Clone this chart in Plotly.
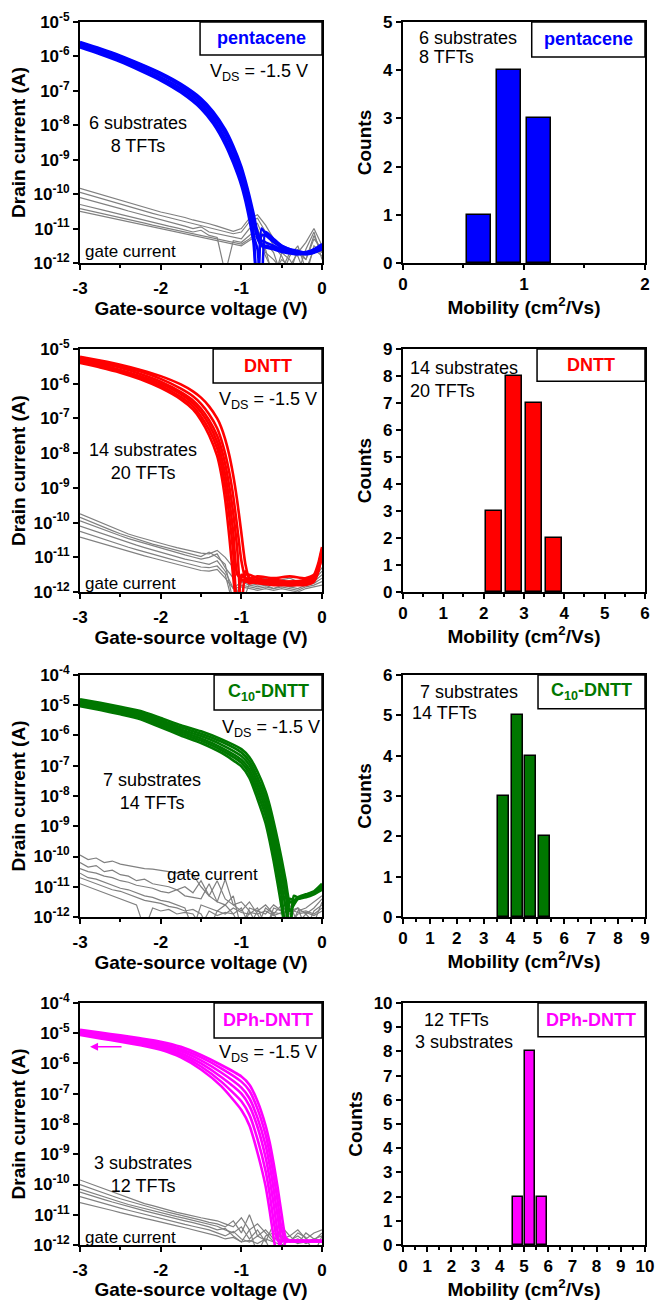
import plotly.graph_objects as go

# ---------------- data ----------------
# Pentacene transfer curves (log10 of |I_D| in A)
PENT_VG = [-3.0, -2.75, -2.5, -2.25, -2.0, -1.75, -1.5, -1.35, -1.2, -1.1, -1.0, -0.95, -0.9, -0.85,
           -0.8, -0.75, -0.7, -0.6, -0.5, -0.4, -0.3, -0.2, -0.1, 0.0]
PENT_LOG_ID = [
    [-5.58, -5.77, -5.98, -6.22, -6.48, -6.8, -7.22, -7.6, -8.12, -8.6, -9.2, -9.6, -10.05, -10.55, -11.1, -11.35, -11.4, -11.5, -11.6, -11.65, -11.7, -11.68, -11.62, -11.5],
    [-5.62, -5.81, -6.02, -6.26, -6.53, -6.86, -7.3, -7.7, -8.25, -8.75, -9.38, -9.8, -10.25, -10.75, -11.3, -11.5, -11.55, -11.6, -11.68, -11.72, -11.75, -11.72, -11.68, -11.55],
    [-5.66, -5.85, -6.07, -6.32, -6.6, -6.93, -7.38, -7.8, -8.38, -8.9, -9.52, -9.95, -10.45, -11.1, -13.0, -11.2, -11.2, -11.4, -11.55, -11.65, -11.7, -11.7, -11.65, -11.55],
    [-5.7, -5.9, -6.12, -6.38, -6.66, -7.0, -7.46, -7.88, -8.48, -9.0, -9.62, -10.08, -10.58, -11.2, -11.6, -13.0, -11.1, -11.3, -11.5, -11.6, -11.65, -11.7, -11.6, -11.45],
    [-5.6, -5.79, -6.0, -6.24, -6.5, -6.83, -7.26, -7.65, -8.18, -8.68, -9.3, -9.7, -10.15, -10.65, -11.2, -11.45, -11.5, -11.55, -11.62, -11.66, -11.7, -11.7, -11.66, -11.6],
    [-5.74, -5.94, -6.16, -6.42, -6.7, -7.05, -7.52, -7.95, -8.56, -9.1, -9.75, -10.2, -10.75, -11.4, -13.0, -11.0, -11.15, -11.35, -11.5, -11.6, -11.7, -11.75, -11.7, -11.6],
]

DNTT_VG = [-3.0, -2.75, -2.5, -2.25, -2.0, -1.75, -1.6, -1.5, -1.4, -1.3, -1.25, -1.2, -1.15, -1.1,
           -1.05, -1.0, -0.95, -0.9, -0.8, -0.6, -0.4, -0.2, -0.1, -0.05, 0.0]
DNTT_LOG_ID = [
    [-5.22, -5.33, -5.45, -5.6, -5.78, -6.02, -6.22, -6.4, -6.65, -7.0, -7.25, -7.6, -8.05, -8.65, -9.4, -10.3, -11.2, -11.6, -11.55, -11.6, -11.55, -11.6, -11.5, -11.2, -10.7],
    [-5.26, -5.37, -5.5, -5.65, -5.86, -6.14, -6.36, -6.58, -6.88, -7.28, -7.6, -8.02, -8.55, -9.25, -10.15, -11.1, -11.6, -11.75, -11.7, -11.65, -11.7, -11.65, -11.55, -11.3, -10.8],
    [-5.3, -5.41, -5.54, -5.72, -5.94, -6.24, -6.48, -6.72, -7.05, -7.5, -7.85, -8.32, -8.95, -9.75, -10.8, -12.5, -11.5, -11.5, -11.6, -11.7, -11.75, -11.7, -11.6, -11.35, -10.9],
    [-5.33, -5.45, -5.6, -5.78, -6.0, -6.3, -6.56, -6.82, -7.18, -7.68, -8.08, -8.62, -9.35, -10.3, -11.5, -11.6, -11.4, -11.6, -11.65, -11.75, -11.8, -11.75, -11.65, -11.4, -11.0],
    [-5.37, -5.49, -5.64, -5.82, -6.06, -6.38, -6.65, -6.94, -7.32, -7.86, -8.32, -8.95, -9.8, -10.9, -12.5, -11.65, -11.7, -11.7, -11.75, -11.8, -11.8, -11.8, -11.7, -11.45, -10.9],
    [-5.4, -5.53, -5.68, -5.87, -6.12, -6.45, -6.74, -7.05, -7.48, -8.08, -8.6, -9.35, -10.4, -11.6, -12.5, -11.5, -11.6, -11.65, -11.7, -11.75, -11.7, -11.75, -11.65, -11.3, -10.75],
]

C10_VG = [-3.0, -2.75, -2.5, -2.25, -2.0, -1.75, -1.5, -1.25, -1.0, -0.9, -0.8, -0.7, -0.65, -0.6,
          -0.55, -0.5, -0.45, -0.4, -0.35, -0.3, -0.2, -0.1, 0.0]
C10_LOG_ID = [
    [-4.8, -4.92, -5.05, -5.19, -5.42, -5.66, -5.86, -6.12, -6.45, -6.72, -7.2, -7.85, -8.3, -8.85, -9.45, -10.1, -10.8, -11.5, -11.5, -11.35, -11.25, -11.15, -10.9],
    [-4.85, -4.97, -5.1, -5.25, -5.49, -5.73, -5.94, -6.2, -6.56, -6.85, -7.38, -8.05, -8.52, -9.1, -9.7, -10.35, -11.05, -12.5, -11.45, -11.4, -11.3, -11.2, -10.95],
    [-4.9, -5.02, -5.15, -5.3, -5.55, -5.8, -6.02, -6.3, -6.68, -6.98, -7.55, -8.25, -8.75, -9.35, -9.95, -10.6, -11.3, -11.8, -11.6, -11.4, -11.3, -11.2, -11.0],
    [-4.94, -5.07, -5.2, -5.36, -5.61, -5.87, -6.1, -6.4, -6.8, -7.12, -7.72, -8.45, -8.98, -9.6, -10.25, -10.95, -11.7, -12.5, -11.3, -11.35, -11.3, -11.2, -11.05],
    [-4.98, -5.11, -5.25, -5.41, -5.67, -5.93, -6.17, -6.48, -6.9, -7.25, -7.9, -8.65, -9.2, -9.85, -10.55, -11.3, -12.5, -11.4, -11.45, -11.4, -11.35, -11.25, -11.1],
    [-5.03, -5.16, -5.3, -5.46, -5.73, -6.0, -6.25, -6.57, -7.02, -7.4, -8.1, -8.9, -9.48, -10.15, -10.9, -11.7, -12.5, -11.5, -11.5, -11.4, -11.3, -11.2, -11.0],
]

DPH_VG = [-3.0, -2.75, -2.5, -2.25, -2.0, -1.75, -1.5, -1.25, -1.0, -0.9, -0.8, -0.7, -0.65, -0.6,
          -0.55, -0.5, -0.45, -0.4, -0.3, -0.2, -0.1, 0.0]
DPH_LOG_ID = [
    [-4.89, -4.98, -5.07, -5.17, -5.28, -5.45, -5.72, -6.05, -6.43, -6.7, -7.25, -8.05, -8.6, -9.3, -10.1, -11.0, -11.75, -11.85, -11.87, -11.87, -11.87, -11.87],
    [-4.93, -5.02, -5.11, -5.22, -5.34, -5.52, -5.8, -6.16, -6.6, -6.9, -7.5, -8.35, -8.95, -9.7, -10.55, -11.5, -11.85, -11.87, -11.87, -11.87, -11.87, -11.87],
    [-4.96, -5.05, -5.15, -5.26, -5.4, -5.59, -5.9, -6.3, -6.8, -7.15, -7.8, -8.7, -9.35, -10.15, -11.05, -11.8, -11.87, -11.87, -11.86, -11.87, -11.87, -11.87],
    [-4.99, -5.09, -5.19, -5.3, -5.45, -5.66, -6.0, -6.45, -7.0, -7.4, -8.1, -9.1, -9.8, -10.65, -11.6, -12.5, -11.87, -11.87, -11.87, -11.86, -11.87, -11.87],
    [-5.03, -5.13, -5.23, -5.35, -5.5, -5.73, -6.1, -6.6, -7.25, -7.7, -8.5, -9.55, -10.3, -11.2, -11.85, -11.87, -11.87, -11.86, -11.87, -11.87, -11.87, -11.87],
    [-5.06, -5.17, -5.28, -5.4, -5.55, -5.8, -6.2, -6.75, -7.54, -8.05, -8.95, -10.05, -10.85, -11.75, -12.5, -11.87, -11.87, -11.87, -11.87, -11.87, -11.86, -11.87],
]

# Gate-current curves (log10 of |I_G| in A), common voltage grid
GATE_VG = [-3.0, -2.9, -2.8, -2.7, -2.6, -2.5, -2.4, -2.3, -2.2, -2.1, -2.0, -1.9, -1.8, -1.7, -1.6,
           -1.5, -1.4, -1.3, -1.2, -1.1, -1.0, -0.9, -0.8, -0.7, -0.6, -0.5, -0.4, -0.3, -0.2, -0.1, 0.0]
PENT_LOG_IG = [
    [-9.83, -9.9, -9.97, -10.04, -10.1, -10.17, -10.24, -10.3, -10.37, -10.45, -10.52, -10.57, -10.62, -10.68, -10.75, -10.8, -10.86, -10.93, -11.0, -11.08, -11.0, -10.7, -10.6, -10.9, -11.3, -11.5, -11.6, -11.7, -11.4, -11.0, -11.5],
    [-9.95, -10.02, -10.08, -10.15, -10.22, -10.29, -10.36, -10.43, -10.5, -10.56, -10.62, -10.68, -10.74, -10.8, -10.86, -10.92, -10.98, -11.05, -11.1, -11.15, -11.1, -10.8, -10.7, -11.1, -11.5, -11.8, -12.3, -11.6, -11.9, -11.2, -11.7],
    [-10.1, -10.16, -10.22, -10.29, -10.36, -10.42, -10.49, -10.55, -10.62, -10.68, -10.74, -10.8, -10.87, -10.93, -11.0, -10.95, -11.1, -11.15, -11.2, -11.25, -11.3, -11.0, -10.85, -11.4, -11.7, -12.4, -11.8, -11.5, -12.2, -11.6, -11.8],
    [-10.3, -10.35, -10.41, -10.47, -10.53, -10.59, -10.65, -10.7, -10.76, -10.82, -10.87, -10.93, -10.98, -11.04, -11.1, -11.05, -11.2, -11.26, -12.3, -11.35, -11.4, -11.2, -11.0, -11.6, -12.5, -11.7, -11.9, -12.3, -11.6, -11.1, -11.9],
    [-10.42, -10.47, -10.53, -10.58, -10.63, -10.68, -10.73, -10.78, -10.84, -10.9, -10.95, -11.0, -11.05, -11.1, -11.15, -11.2, -11.24, -11.3, -11.35, -11.4, -11.45, -11.3, -11.1, -11.7, -11.9, -12.2, -11.7, -11.8, -12.4, -11.5, -11.7],
    [-10.5, -10.55, -10.6, -10.65, -10.7, -10.76, -10.82, -10.87, -10.92, -10.97, -11.02, -11.07, -11.12, -11.17, -11.22, -11.27, -11.32, -11.37, -11.42, -11.47, -11.5, -11.35, -11.2, -11.8, -12.3, -11.9, -12.1, -11.7, -11.9, -11.3, -11.6],
]
DNTT_LOG_IG = [
    [-9.75, -9.85, -9.95, -10.05, -10.15, -10.25, -10.33, -10.4, -10.47, -10.54, -10.6, -10.66, -10.72, -10.78, -10.83, -10.88, -10.9, -10.8, -11.0, -11.3, -11.55, -11.6, -11.65, -11.6, -11.7, -11.65, -11.6, -11.7, -11.65, -11.6, -11.3],
    [-9.85, -9.95, -10.05, -10.14, -10.23, -10.32, -10.4, -10.48, -10.55, -10.62, -10.68, -10.74, -10.8, -10.86, -10.92, -10.98, -10.85, -11.0, -11.2, -12.3, -11.7, -11.65, -11.75, -11.7, -11.65, -11.8, -11.7, -11.75, -11.7, -11.65, -11.4],
    [-9.95, -10.04, -10.13, -10.22, -10.3, -10.38, -10.46, -10.53, -10.6, -10.67, -10.74, -10.8, -10.87, -10.93, -10.99, -11.05, -11.0, -10.9, -11.3, -11.6, -12.4, -11.75, -11.8, -11.75, -11.8, -11.7, -11.85, -11.8, -11.75, -11.7, -11.5],
    [-10.1, -10.18, -10.27, -10.35, -10.43, -10.5, -10.58, -10.65, -10.72, -10.79, -10.85, -10.92, -10.98, -11.05, -11.1, -11.15, -11.2, -11.1, -11.4, -11.9, -11.7, -11.8, -11.85, -11.8, -11.9, -11.8, -11.85, -11.9, -11.8, -11.75, -11.6],
    [-10.25, -10.33, -10.41, -10.49, -10.57, -10.64, -10.71, -10.78, -10.85, -10.92, -10.98, -11.04, -11.1, -11.16, -11.22, -11.28, -11.3, -11.25, -11.5, -12.4, -11.8, -11.85, -11.9, -11.85, -11.9, -11.85, -11.9, -11.95, -11.85, -11.8, -11.7],
    [-10.42, -10.49, -10.56, -10.63, -10.7, -10.77, -10.84, -10.9, -10.96, -11.02, -11.08, -11.14, -11.2, -11.26, -11.32, -11.38, -11.4, -11.35, -11.6, -11.9, -11.85, -11.9, -11.95, -11.9, -11.95, -11.9, -11.95, -12.0, -11.9, -11.85, -11.8],
]
C10_LOG_IG = [
    [-9.95, -10.1, -10.05, -10.2, -10.15, -10.25, -10.3, -10.35, -10.4, -10.42, -10.45, -10.5, -10.55, -10.52, -10.6, -11.0, -11.3, -10.8, -11.4, -11.6, -11.5, -11.8, -12.3, -11.7, -11.9, -11.6, -12.4, -11.8, -11.7, -11.5, -11.3],
    [-10.2, -10.35, -10.3, -10.5, -10.45, -10.6, -10.65, -10.8, -10.75, -10.9, -10.95, -11.0, -11.1, -11.0, -11.2, -10.8, -11.3, -11.5, -10.75, -11.6, -11.8, -11.5, -11.9, -12.4, -11.7, -11.8, -11.6, -12.2, -11.9, -11.7, -11.4],
    [-10.4, -10.5, -10.55, -10.65, -10.7, -10.8, -10.85, -10.95, -11.0, -11.05, -11.15, -11.2, -11.1, -11.3, -11.35, -11.4, -10.9, -11.5, -11.6, -11.3, -12.4, -11.7, -11.8, -11.6, -11.9, -12.3, -11.8, -11.7, -11.9, -12.2, -11.5],
    [-10.55, -10.7, -10.75, -10.85, -10.95, -11.05, -11.1, -11.2, -11.3, -11.35, -11.45, -11.5, -11.6, -11.7, -12.4, -11.6, -11.7, -11.8, -11.6, -11.9, -11.7, -12.3, -11.8, -11.9, -11.6, -11.8, -11.9, -11.7, -12.4, -11.8, -11.6],
    [-10.7, -10.8, -10.9, -11.0, -11.1, -11.15, -11.25, -11.35, -11.45, -11.5, -11.55, -11.65, -11.7, -11.8, -11.75, -11.9, -12.4, -11.8, -11.9, -11.7, -11.85, -11.9, -11.7, -12.3, -11.85, -11.9, -11.75, -11.85, -11.8, -11.9, -11.7],
    [-10.9, -11.0, -11.1, -11.2, -11.3, -11.4, -11.5, -11.6, -12.4, -11.7, -11.8, -11.75, -11.9, -11.85, -11.9, -12.3, -11.8, -11.95, -11.85, -11.9, -12.4, -11.85, -11.9, -11.8, -11.95, -11.85, -12.3, -11.9, -11.85, -11.95, -11.8],
]
DPH_LOG_IG = [
    [-9.85, -9.95, -10.05, -10.15, -10.25, -10.35, -10.45, -10.55, -10.63, -10.7, -10.78, -10.85, -10.92, -10.98, -11.05, -11.1, -11.15, -11.2, -11.3, -11.4, -11.1, -11.5, -11.3, -11.6, -11.9, -11.4, -11.7, -11.5, -11.8, -11.6, -11.5],
    [-10.0, -10.1, -10.2, -10.3, -10.38, -10.47, -10.55, -10.63, -10.7, -10.78, -10.85, -10.92, -10.98, -11.05, -11.12, -11.18, -11.25, -11.3, -11.4, -11.2, -11.6, -11.0, -11.7, -11.5, -11.8, -11.7, -11.9, -11.6, -11.75, -12.3, -11.7],
    [-10.15, -10.24, -10.33, -10.42, -10.5, -10.58, -10.66, -10.73, -10.8, -10.87, -10.94, -11.0, -11.06, -11.12, -11.18, -11.24, -11.3, -11.38, -11.5, -11.6, -11.4, -11.8, -11.5, -11.9, -11.3, -11.8, -11.7, -11.95, -11.6, -11.8, -11.9],
    [-10.25, -10.34, -10.42, -10.5, -10.58, -10.66, -10.73, -10.8, -10.87, -10.94, -11.0, -11.07, -11.13, -11.2, -11.26, -11.32, -11.4, -11.5, -11.45, -11.7, -11.9, -11.5, -12.3, -11.7, -11.6, -11.9, -11.85, -11.7, -11.9, -11.8, -11.7],
    [-10.4, -10.48, -10.55, -10.63, -10.7, -10.78, -10.85, -10.92, -10.98, -11.05, -11.12, -11.18, -11.25, -11.32, -11.38, -11.45, -11.5, -11.6, -11.7, -11.55, -11.8, -11.9, -11.7, -11.85, -12.4, -11.75, -11.9, -11.8, -11.95, -11.85, -11.6],
    [-10.6, -10.66, -10.72, -10.8, -10.86, -10.93, -11.0, -11.06, -11.12, -11.18, -11.25, -11.31, -11.37, -11.43, -11.5, -11.56, -11.62, -11.7, -11.8, -11.75, -11.9, -11.85, -11.95, -11.8, -11.9, -12.0, -11.85, -11.95, -11.9, -11.8, -11.85],
]

# Mobility histograms (bin centres in cm^2/Vs, counts)
PENT_MU = [0.625, 0.875, 1.125]
PENT_COUNTS = [1, 4, 3]
DNTT_MU = [2.25, 2.75, 3.25, 3.75]
DNTT_COUNTS = [3, 8, 7, 2]
C10_MU = [3.75, 4.25, 4.75, 5.25]
C10_COUNTS = [3, 5, 4, 2]
DPH_MU = [4.75, 5.25, 5.75]
DPH_COUNTS = [2, 8, 2]

# Tick labels
VG_TICKS = [-3, -2, -1, 0]
VG_LABELS = ["-3", "-2", "-1", "0"]
LOG_TICKS_5 = [1e-12, 1e-11, 1e-10, 1e-9, 1e-8, 1e-7, 1e-6, 1e-5]
LOG_LABELS_5 = ["10<sup>-12</sup>", "10<sup>-11</sup>", "10<sup>-10</sup>", "10<sup>-9</sup>",
                "10<sup>-8</sup>", "10<sup>-7</sup>", "10<sup>-6</sup>", "10<sup>-5</sup>"]
LOG_TICKS_4 = LOG_TICKS_5 + [1e-4]
LOG_LABELS_4 = LOG_LABELS_5 + ["10<sup>-4</sup>"]
MU_TICKS = [[0, 1, 2], [0, 1, 2, 3, 4, 5, 6], [0, 1, 2, 3, 4, 5, 6, 7, 8, 9],
            [0, 1, 2, 3, 4, 5, 6, 7, 8, 9, 10]]
COUNT_TICKS = [[0, 1, 2, 3, 4, 5], [0, 1, 2, 3, 4, 5, 6, 7, 8, 9], [0, 1, 2, 3, 4, 5, 6],
               [0, 1, 2, 3, 4, 5, 6, 7, 8, 9, 10]]

MATERIALS = ["<b>pentacene</b>", "<b>DNTT</b>", "<b>C<sub>10</sub>-DNTT</b>", "<b>DPh-DNTT</b>"]
COLORS = ["#0000FF", "#FF0000", "#007700", "#FF00FF"]
SUBSTRATE_TEXT = [["6 substrates", "8 TFTs"], ["14 substrates", "20 TFTs"],
                  ["7 substrates", "14 TFTs"], ["3 substrates", "12 TFTs"]]

# ---------------- figure ----------------
fig = go.Figure()
FONT = "Arial"
GREY = "#808080"

transfer = [
    (PENT_VG, PENT_LOG_ID, PENT_LOG_IG),
    (DNTT_VG, DNTT_LOG_ID, DNTT_LOG_IG),
    (C10_VG, C10_LOG_ID, C10_LOG_IG),
    (DPH_VG, DPH_LOG_ID, DPH_LOG_IG),
]
hists = [(PENT_MU, PENT_COUNTS), (DNTT_MU, DNTT_COUNTS), (C10_MU, C10_COUNTS), (DPH_MU, DPH_COUNTS)]

ROW_DOMAINS = [[0.7977, 0.9831], [0.5446, 0.7315], [0.2946, 0.4808], [0.0423, 0.2285]]
LEFT_DOM = [0.1220, 0.4909]
RIGHT_DOM = [0.6143, 0.9832]

for i, (vg, ids, igs) in enumerate(transfer):
    xa = "x" if i == 0 else f"x{2*i+1}"
    ya = "y" if i == 0 else f"y{2*i+1}"
    for g in igs:
        fig.add_trace(go.Scatter(x=GATE_VG, y=[10 ** v for v in g], mode="lines",
                                 line=dict(color=GREY, width=1.2), xaxis=xa, yaxis=ya,
                                 showlegend=False, hoverinfo="skip"))
    for d in ids:
        fig.add_trace(go.Scatter(x=vg, y=[10 ** v for v in d], mode="lines",
                                 line=dict(color=COLORS[i], width=2.6, shape="spline", smoothing=0.6),
                                 xaxis=xa, yaxis=ya, showlegend=False, hoverinfo="skip"))
    mu, cnt = hists[i]
    fig.add_trace(go.Bar(x=mu, y=cnt, width=0.4 if i else 0.2,
                         marker=dict(color=COLORS[i], line=dict(color="black", width=1.5)),
                         xaxis=f"x{2*i+2}", yaxis=f"y{2*i+2}", showlegend=False, hoverinfo="skip"))

tickfont = dict(family=FONT, size=17, color="black", weight="bold")
titlefont = dict(family=FONT, size=19, color="black", weight="bold")
base = dict(showline=True, linewidth=2, linecolor="black", mirror=True, ticks="outside",
            ticklen=5, tickwidth=2, tickcolor="black", showgrid=False, zeroline=False,
            tickfont=tickfont, automargin=False, ticklabeloverflow="allow")
minor = dict(dtick=0.5, ticks="outside", ticklen=3, tickwidth=1.5, tickcolor="black")

HIST_X = [[0, 2], [0, 6], [0, 9], [0, 10]]
HIST_Y = [[0, 5], [0, 9], [0, 6], [0, 10]]

layout = {}
for i in range(4):
    nl = "" if i == 0 else str(2 * i + 1)
    nr = str(2 * i + 2)
    layout["xaxis" + nl] = dict(base, domain=LEFT_DOM, anchor="y" + nl, range=[-3, 0],
                                tickmode="array", tickvals=VG_TICKS, ticktext=VG_LABELS, minor=minor,
                                ticklabelstandoff=4,
                                title=dict(text="Gate-source voltage (V)", font=titlefont, standoff=3))
    top = -5 if i < 2 else -4
    layout["yaxis" + nl] = dict(base, domain=ROW_DOMAINS[i], anchor="x" + nl, type="log",
                                range=[-12, top], tickmode="array",
                                tickvals=LOG_TICKS_5 if i < 2 else LOG_TICKS_4,
                                ticktext=LOG_LABELS_5 if i < 2 else LOG_LABELS_4,
                                title=dict(text="Drain current (A)", font=titlefont, standoff=3))
    layout["xaxis" + nr] = dict(base, domain=RIGHT_DOM, anchor="y" + nr, range=HIST_X[i],
                                tickmode="array", tickvals=MU_TICKS[i],
                                ticktext=[str(t) for t in MU_TICKS[i]], minor=minor,
                                title=dict(text="Mobility (cm<sup>2</sup>/Vs)", font=titlefont, standoff=1))
    layout["yaxis" + nr] = dict(base, domain=ROW_DOMAINS[i], anchor="x" + nr, range=HIST_Y[i],
                                tickmode="array", tickvals=COUNT_TICKS[i],
                                ticktext=[str(t) for t in COUNT_TICKS[i]],
                                title=dict(text="Counts", font=titlefont, standoff=6))

fig.update_layout(**layout)

# label boxes: (x0, y0) in axis-domain fraction for left / right panels
BOX_LEFT = [(0.496, 0.863), (0.55, 0.86), (0.554, 0.855), (0.554, 0.855)]
BOX_RIGHT = [(0.532, 0.855), (0.554, 0.867), (0.558, 0.86), (0.558, 0.86)]
VDS_POS = [(0.74, 0.79), (0.777, 0.79), (0.79, 0.78), (0.777, 0.793)]
SUB_POS = [(0.24, 0.535), (0.26, 0.536), (0.296, 0.52), (0.26, 0.29)]
GATE_POS = [(0.012, 0.046, "left"), (0.012, 0.037, "left"), (0.546, 0.174, "center"), (0.012, 0.03, "left")]

shapes = []
annotations = []
annfont = dict(family=FONT, size=18, color="black")
for i in range(4):
    nl = "" if i == 0 else str(2 * i + 1)
    nr = str(2 * i + 2)
    for suffix, (bx, by) in ((nl, BOX_LEFT[i]), (nr, BOX_RIGHT[i])):
        shapes.append(dict(type="rect", xref=f"x{suffix} domain", yref=f"y{suffix} domain",
                           x0=bx, x1=1, y0=by, y1=1, line=dict(color="black", width=1.5),
                           fillcolor="white", layer="above"))
        annotations.append(dict(xref=f"x{suffix} domain", yref=f"y{suffix} domain",
                                x=(bx + 1) / 2, y=(by + 1) / 2, text=MATERIALS[i], showarrow=False,
                                font=dict(family=FONT, size=18, color=COLORS[i]),
                                xanchor="center", yanchor="middle"))
    annotations.append(dict(xref=f"x{nl} domain", yref=f"y{nl} domain", x=VDS_POS[i][0], y=VDS_POS[i][1],
                            text="V<sub>DS</sub> = -1.5 V", showarrow=False, font=annfont,
                            xanchor="center", yanchor="middle"))
    annotations.append(dict(xref=f"x{nl} domain", yref=f"y{nl} domain", x=SUB_POS[i][0], y=SUB_POS[i][1],
                            text="<br>".join(SUBSTRATE_TEXT[i]), showarrow=False, font=annfont,
                            xanchor="center", yanchor="middle", align="center"))
    gx, gy, ga = GATE_POS[i]
    annotations.append(dict(xref=f"x{nl} domain", yref=f"y{nl} domain", x=gx, y=gy,
                            text="gate current", showarrow=False,
                            font=dict(family=FONT, size=17, color="black"),
                            xanchor=ga, yanchor="middle"))

# right-panel sample texts
RIGHT_TEXT = [
    [("6 substrates", 0.058, 0.935), ("8 TFTs", 0.058, 0.855)],
    [("14 substrates", 0.02, 0.92), ("20 TFTs", 0.02, 0.827)],
    [("7 substrates", 0.062, 0.93), ("14 TFTs", 0.029, 0.842)],
    [("12 TFTs", 0.077, 0.93), ("3 substrates", 0.043, 0.84)],
]
for i in range(4):
    nr = str(2 * i + 2)
    for txt, tx, ty in RIGHT_TEXT[i]:
        annotations.append(dict(xref=f"x{nr} domain", yref=f"y{nr} domain", x=tx, y=ty, text=txt,
                                showarrow=False, font=annfont, xanchor="left", yanchor="middle"))

# arrow in DPh-DNTT panel (log axis -> log10 units)
ARROW_HEAD = (-2.876, -5.45)
ARROW_TAIL = (-2.467, -5.45)
annotations.append(dict(xref="x7", yref="y7", axref="x7", ayref="y7",
                        x=ARROW_HEAD[0], y=ARROW_HEAD[1], ax=ARROW_TAIL[0], ay=ARROW_TAIL[1],
                        text="", showarrow=True, arrowhead=2, arrowsize=1, arrowwidth=1.6,
                        arrowcolor="#FF00FF"))

fig.update_layout(width=656, height=1300, margin=dict(l=0, r=0, t=0, b=0),
                  paper_bgcolor="white", plot_bgcolor="white", template="none",
                  shapes=shapes, annotations=annotations, bargap=0, showlegend=False)

fig.write_html("out.html", config={"displayModeBar": False},
               post_script="document.body.style.margin='0px';document.body.style.overflow='hidden';")
